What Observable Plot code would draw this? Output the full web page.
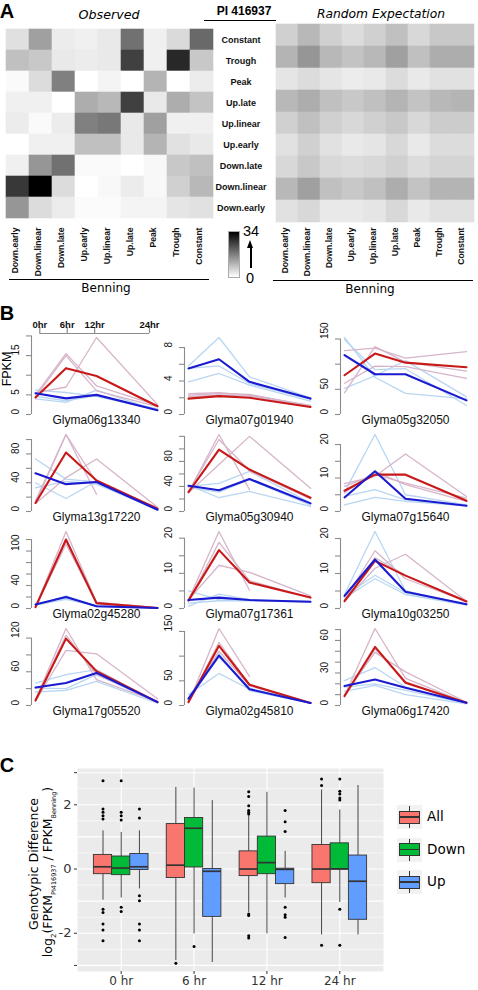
<!DOCTYPE html>
<html><head><meta charset="utf-8">
<script src="https://cdn.jsdelivr.net/npm/d3@7"></script>
<script src="https://cdn.jsdelivr.net/npm/@observablehq/plot@0.6"></script>
<style>
body{margin:0;background:#fff;}
#fig{position:relative;width:478px;height:990px;overflow:hidden;font-family:"Liberation Sans",Arial,sans-serif;color:#000;background:#fff;}
.t{position:absolute;white-space:nowrap;transform:translate(-50%,-50%);line-height:1;}
.r{position:absolute;white-space:nowrap;transform:translate(-50%,-50%) rotate(-90deg);line-height:1;}
.ln{position:absolute;background:#000;}
</style></head><body><div id="fig"></div>
<script>
// ---------------- Panel A data ----------------
const benningPatterns = ["Down.early","Down.linear","Down.late","Up.early","Up.linear","Up.late","Peak","Trough","Constant"];
const piPatterns = ["Constant","Trough","Peak","Up.late","Up.linear","Up.early","Down.late","Down.linear","Down.early"];
const observedCounts = [
  [4.1,12.7,2.5,2,3,19,2,5,20],
  [8.4,7.3,3,2.5,3,25.5,2,28.7,7.3],
  [0.7,4.7,17,0,1.5,0,10,0,2.5],
  [2,2,0,11,9.5,25.5,3,11,8],
  [2.5,0.7,2.5,17,18,3,12.7,2,2],
  [0,2,2,8.4,8.4,3,10,4,3],
  [2,14,19,0.7,0.7,0,1,7.3,8.4],
  [26.5,34,4.7,0,1,2.5,1,6.3,9.5],
  [14,4.7,2.5,0.5,0.5,1.5,1.5,3.5,4]
];
const randomCounts = [
  [6.3,9.5,6.3,4.7,6.3,8.4,5.2,7.3,7.3],
  [10,14,9.5,8,9.5,12.7,8.4,11,11],
  [3.5,4.7,3.5,2.5,3,4.7,3,4,4],
  [9.5,11,8.4,7.3,8.4,10,8,9.5,10],
  [6.3,8.4,6.3,5.2,6.3,7.3,5.2,6.8,6.8],
  [4,6.3,4,3,3.5,5.2,3,4.7,4.7],
  [5.2,7.3,5.2,4.7,5.2,6.3,4.7,5.7,5.7],
  [9.5,12.7,8.4,7.3,8.4,11,8,10,10],
  [4,5.2,3,3,3.5,5.2,3,4,4]
];
const countRange = [0, 34];

// ---------------- Panel B data ----------------
const hours = [0, 6, 12, 24];
const hourLabels = ["0hr","6hr","12hr","24hr"];
const genes = ["Glyma06g13340","Glyma07g01940","Glyma05g32050",
               "Glyma13g17220","Glyma05g30940","Glyma07g15640",
               "Glyma02g45280","Glyma07g17361","Glyma10g03250",
               "Glyma17g05520","Glyma02g45810","Glyma06g17420"];
const redMean = [
  [4.3,11.8,9.8,2.1],[1.9,2.2,2.0,0.9],[78,121,103,94],
  [11.8,82,43,4],[31,99,67,22],[6.2,11,11,3.2],
  [2.3,120,9.4,1],[2.3,16.6,7.4,3.1],[2.1,13.6,9.4,2],
  [9,119,61,6],[7,121,42,5],[8.7,54,21,2.5]
];
const blueMean = [
  [5.4,4.1,5.0,1.1],[5.5,6.6,3.9,1.9],[118,80,80,28],
  [53,38,41,2.4],[41,34,52,13],[4.2,12.0,3.8,1.7],
  [7,20,4,1],[2.4,3.1,2.4,1.9],[3.6,14.0,4.8,1.2],
  [32,40,58,6],[14,101,33,5],[18,24,16.4,2.5]
];
const redReps = [
  [[5.0,15.5,7.3,2.3],[4.5,15.0,6.0,2.0],[5.5,7.0,19.6,2.5]],
  [[2.3,2.5,2.4,1.0],[2.5,2.6,2.3,1.1],[2.1,2.3,2.2,0.9]],
  [[127,132,112,125],[43,135,104,86],[62,96,95,72]],
  [[12,107,24,null],[15,107,41,5],[11,47,73,6]],
  [[31,123,35,null],[30,75,120,37],[32,115,65,20]],
  [[8.3,10.5,17.2,4.5],[7.5,11,8.5,4],[5.5,12,8,3]],
  [[2,134,11,1.5],[2.5,118,8,1],[2,112,10,1.2]],
  [[2.5,21.9,5.2,null],[2,18.8,7.9,3],[2.5,12.3,10.3,3.6]],
  [[2,11.5,15.5,2],[2.5,16.5,8.5,2],[2,14.5,9.5,2.2]],
  [[10,137,46,7],[8,98,92,12],[9,125,55,8]],
  [[5,156,59,null],[6,128,42,5],[8,110,40,5]],
  [[9,71,25,2.5],[10,49,31,3],[8,52,22,2]]
];
const blueReps = [
  [[6.2,5.6,4.6,1.2],[4.0,3.1,6.2,1.0],[4.6,3.5,4.8,1.4]],
  [[5.8,9.2,4.5,2.0],[3.9,4.9,3.5,1.6],[5.5,5.8,3.7,1.8]],
  [[153,74,42,31],[52,77,107,35],[149,89,91,18]],
  [[73,45,41,3],[40,18,42,2],[33,42,38,3]],
  [[40,45,64,14],[42,22,32,8],[38,31,51,10]],
  [[5.8,23,5,2],[4.5,6.5,3.5,2],[2,4.2,3,1.7]],
  [[6,22,4,1],[8,18,3.5,0.8],[6,16,5,1.2]],
  [[5.0,2.5,2.4,1.9],[0.7,4.1,2.5,2.0],[1.5,2.2,2.2,1.8]],
  [[4,22,5,1.2],[3.5,9.5,4.5,1.3],[3,8.5,4,1]],
  [[40,55,64,5],[24,27,43,4],[31,30,55,5]],
  [[22,65,33,5],[15,98,35,5],[8,105,30,5]],
  [[23,35,17,2],[13,18.5,10,1.5],[17,20,14,2]]
];
const yTicks = [
  [0,5,10,15,20],[0,2,4,6,8],[0,50,100,150],
  [0,20,40,60,80,100],[0,20,40,60,80,100,120],[0,5,10,15,20],
  [0,20,40,60,80,100,120],[0,5,10,15,20],[0,5,10,15,20],
  [0,30,60,90,120],[0,50,100,150],[0,10,20,30,40,50,60,70]
];
const yLabels = [
  [0,5,15],[0,4,8],[0,50,150],
  [0,40,80],[0,40,80],[0,10,20],
  [0,40,100],[0,10,20],[0,10,20],
  [0,60,120],[0,50,150],[0,30,60]
];

// ---------------- Panel C data ----------------
const boxTimes = ["0 hr","6 hr","12 hr","24 hr"];
const boxGroups = ["All","Down","Up"];
const boxColors = ["#F8766D","#00BA38","#619CFF"];
// [lower whisker, Q1, median, Q3, upper whisker]
const allStats  = [[-0.97,-0.16,0.07,0.44,1.19],[-2.85,-0.28,0.12,1.40,2.54],[-1.35,-0.22,0.0,0.55,1.66],[-2.05,-0.44,0.0,0.75,2.46]];
const downStats = [[-0.90,-0.19,0.03,0.39,1.14],[-2.02,0.05,1.27,1.59,2.52],[-2.02,-0.16,0.20,1.01,2.39],[-1.04,0.0,0.0,0.80,1.84]];
const upStats   = [[-0.62,-0.03,0.07,0.47,1.19],[-2.91,-1.49,-0.07,0.0,2.13],[-0.90,-0.47,-0.01,0.01,0.55],[-2.05,-1.58,-0.38,0.42,2.60]];
const allOut  = [[2.75,1.87,1.77,1.66,1.56,-1.25,-1.35,-1.71,-1.9,-2.23],[-2.93],[2.41,2.26,1.97,1.82,1.77,1.71,-1.40,-1.45,-2.08,-2.15],[2.80,2.60,-2.37]];
const downOut = [[2.75,1.77,1.66,1.53,-1.19,-1.32],[-2.41],[],[2.80,2.42,2.34,2.21,2.15,-1.25,-2.37]];
const upOut   = [[1.87,1.59,-0.83,-0.99,-1.71,-1.9,-2.23],[],[1.82,1.47,1.17,-1.19,-1.42,-1.5,-2.13],[]];
const yTicksC = [-3,-2,0,2,3];
const yLabelsC = [-2,0,2];

// ---------------- helpers ----------------
const fig = document.getElementById("fig");
function put(node, left, top) {
  node.style.position = "absolute"; node.style.left = left + "px"; node.style.top = top + "px";
  fig.appendChild(node); return node;
}
function txt(str, x, y, css, cls) {
  const d = document.createElement("div");
  d.className = cls || "t"; d.innerHTML = str;
  d.style.left = x + "px"; d.style.top = y + "px";
  Object.assign(d.style, css || {});
  fig.appendChild(d); return d;
}
function hline(x1, x2, y, w) {
  const d = document.createElement("div"); d.className = "ln";
  d.style.left = x1 + "px"; d.style.top = (y - w/2) + "px"; d.style.width = (x2 - x1) + "px"; d.style.height = w + "px";
  fig.appendChild(d);
}
const baseStyle = {background: "transparent", overflow: "visible", fontFamily: "'Liberation Sans', Arial, sans-serif", color: "#111"};

// ---------------- Panel A ----------------
function heat(counts, o) {
  const cells = [];
  piPatterns.forEach((r, i) => benningPatterns.forEach((c, j) => cells.push({row: r, col: c, v: counts[i][j]})));
  const marks = [
    Plot.cell(cells, {x: "col", y: "row", fill: "v", stroke: "v", strokeWidth: 0.6}),
    Plot.text(benningPatterns, {x: d => d, text: d => d, frameAnchor: "bottom", rotate: -90, textAnchor: "end", dy: o.labDy, fontSize: 8.6, fontWeight: "bold", fill: "#111"})
  ];
  if (o.rowLabels) marks.push(Plot.text(piPatterns, {y: d => d, text: d => d, frameAnchor: "right", textAnchor: "middle", dx: 27.5, fontSize: 9, fontWeight: "bold", fill: "#111"}));
  return Plot.plot({
    width: o.width, height: 285, marginLeft: o.ml, marginRight: o.mr, marginTop: o.mt, marginBottom: o.mb,
    x: {domain: benningPatterns, padding: 0, axis: null},
    y: {domain: piPatterns, padding: 0, axis: null},
    color: {type: "linear", domain: countRange, range: ["#ffffff", "#000000"]},
    style: baseStyle,
    marks
  });
}
put(heat(observedCounts, {width: 272, ml: 5, mr: 59, mt: 25, mb: 63, labDy: 5, rowLabels: true}), 0, 0);
put(heat(randomCounts, {width: 206, ml: 0, mr: 0, mt: 23, mb: 62, labDy: 4, rowLabels: false}), 272, 0);

txt("A", 7, 11, {fontSize: "20px", fontWeight: "bold"});
txt("Observed", 109, 15, {fontFamily: "'DejaVu Sans'", fontStyle: "oblique", fontSize: "12.7px"});
txt("Random Expectation", 381, 14, {fontFamily: "'DejaVu Sans'", fontStyle: "oblique", fontSize: "12.3px"});
txt("PI 416937", 244, 10.5, {fontSize: "12px", fontWeight: "bold"});
hline(204, 276, 20.5, 1.5);
hline(9, 209, 279.5, 1.6);
hline(273, 473, 280.5, 1.6);
txt("Benning", 106, 288, {fontFamily: "'DejaVu Sans'", fontSize: "12px"});
txt("Benning", 370, 289, {fontFamily: "'DejaVu Sans'", fontSize: "12px"});
// colour key
(function(){
  const g = document.createElement("div");
  Object.assign(g.style, {width: "10px", height: "45px", border: "1px solid #aaa",
    background: "linear-gradient(to bottom,#000,#fff)"});
  put(g, 228, 231);
  txt(String(countRange[1]), 251, 231, {fontSize: "14.5px"});
  txt(String(countRange[0]), 250, 277.5, {fontSize: "14.5px"});
  const shaft = document.createElement("div");
  Object.assign(shaft.style, {width: "2px", height: "22px", background: "#000"});
  put(shaft, 249.5, 246);
  const head = document.createElement("div");
  Object.assign(head.style, {width: 0, height: 0, borderLeft: "3.5px solid transparent", borderRight: "3.5px solid transparent", borderBottom: "8px solid #000"});
  put(head, 247, 240);
})();

// ---------------- Panel B ----------------
txt("B", 7, 313, {fontSize: "20px", fontWeight: "bold"});
txt("FPKM", 6.5, 369, {fontSize: "12.5px"}, "r");
// time key on top
put(Plot.plot({
  width: 160, height: 22, marginLeft: 39.3, marginRight: 11, marginTop: 15, marginBottom: 1,
  x: {domain: [hours[0], hours[hours.length - 1]], axis: null},
  y: {domain: [0, 1], axis: null},
  style: baseStyle,
  marks: [
    Plot.ruleY([0], {x1: hours[0], x2: hours[hours.length - 1], stroke: "#8c8c8c", strokeWidth: 1.2}),
    Plot.tickX(hours, {x: d => d, stroke: "#8c8c8c", strokeWidth: 1.2}),
    Plot.text(hours, {x: d => d, text: (d, i) => hourLabels[i], frameAnchor: "top", dy: -6.5, fontSize: 9.5, fontWeight: "bold", fill: "#111"})
  ]
}), 0, 312);

const colLeft = [0, 153, 309];
const rowTop = [330.5, 427.7, 524.9, 622.1];
const pink = "#d6b5ca", lightBlue = "#b8d6f2", red = "#c81818", blue = "#1a1ad0";
genes.forEach((name, k) => {
  const c = k % 3, r = Math.floor(k / 3);
  const toRows = arr => hours.map((h, i) => ({h, v: arr[i]}));
  const vals = [...redMean[k], ...blueMean[k], ...redReps[k].flat(), ...blueReps[k].flat()].filter(v => v != null);
  const ymax = d3.max(vals);
  const tk = yTicks[k];
  const marks = [
    Plot.ruleX([hours[0]], {y1: tk[0], y2: tk[tk.length - 1], dx: -4, stroke: "#8c8c8c", strokeWidth: 1.1}),
    Plot.axisY({ticks: tk, tickSize: 5, tickFormat: () => "", label: null, stroke: "#8c8c8c", strokeWidth: 1.1}),
    Plot.text(yLabels[k], {y: d => d, text: d => String(d), frameAnchor: "left", dx: -16, rotate: -90, fontSize: 10, fill: "#111"}),
    Plot.text([name], {frameAnchor: "bottom", dx: 2, dy: 9, fontSize: 12, fill: "#111"})
  ];
  blueReps[k].forEach(rep => marks.push(Plot.line(toRows(rep), {x: "h", y: "v", stroke: lightBlue, strokeWidth: 1.3})));
  redReps[k].forEach(rep => marks.push(Plot.line(toRows(rep), {x: "h", y: "v", stroke: pink, strokeWidth: 1.3})));
  marks.push(Plot.line(toRows(redMean[k]), {x: "h", y: "v", stroke: red, strokeWidth: 2.1}));
  marks.push(Plot.line(toRows(blueMean[k]), {x: "h", y: "v", stroke: blue, strokeWidth: 2.1}));
  put(Plot.plot({
    width: 160, height: 99, marginLeft: 31, marginRight: 3, marginTop: 6, marginBottom: 16,
    x: {domain: [hours[0], hours[hours.length - 1]], insetLeft: 4, axis: null},
    y: {domain: [0, ymax], axis: null},
    style: baseStyle,
    marks
  }), colLeft[c], rowTop[r]);
});

// ---------------- Panel C ----------------
txt("C", 7, 765, {fontSize: "20px", fontWeight: "bold"});
const dodge = [-0.25, 0, 0.25], halfW = 0.125;
const statsByGroup = [allStats, downStats, upStats];
const outByGroup = [allOut, downOut, upOut];
const boxRows = [], outRows = [];
boxGroups.forEach((g, gi) => {
  statsByGroup[gi].forEach((s, ti) => boxRows.push({g, gi, ti, lo: s[0], q1: s[1], med: s[2], q3: s[3], hi: s[4]}));
  outByGroup[gi].forEach((arr, ti) => arr.forEach(v => outRows.push({g, gi, ti, v})));
});
const cx = d => d.ti + dodge[d.gi];
const gridVals = d3.range(-3, 3.01, 0.5);
put(Plot.plot({
  width: 390, height: 228, marginLeft: 77, marginRight: 7, marginTop: 6, marginBottom: 19,
  x: {domain: [-0.6, boxTimes.length - 0.4], axis: null},
  y: {domain: [-3.19, 3.13], axis: null},
  color: {domain: boxGroups, range: boxColors},
  style: {...baseStyle, fontFamily: "'DejaVu Sans', sans-serif", color: "#333"},
  marks: [
    Plot.frame({fill: "#EBEBEB", stroke: null}),
    Plot.ruleY(gridVals, {stroke: "white", strokeWidth: d => Number.isInteger(d) ? 1.1 : 0.6}),
    Plot.ruleX(boxTimes, {x: (d, i) => i, stroke: "white", strokeWidth: 1.1}),
    Plot.ruleX(boxRows, {x: cx, y1: "lo", y2: "q1", stroke: "#333", strokeWidth: 0.9}),
    Plot.ruleX(boxRows, {x: cx, y1: "q3", y2: "hi", stroke: "#333", strokeWidth: 0.9}),
    Plot.rect(boxRows, {x1: d => cx(d) - halfW, x2: d => cx(d) + halfW, y1: "q1", y2: "q3", fill: "g", stroke: "#333", strokeWidth: 0.9}),
    Plot.ruleY(boxRows, {y: "med", x1: d => cx(d) - halfW, x2: d => cx(d) + halfW, stroke: "#333", strokeWidth: 1.7}),
    Plot.dot(outRows, {x: cx, y: "v", r: 1.5, fill: "black", stroke: null}),
    Plot.axisY({ticks: yTicksC, tickFormat: d => yLabelsC.includes(d) ? String(d) : "", tickSize: 3, tickPadding: 3, label: null, fontSize: 13, color: "#333"}),
    Plot.axisX({ticks: boxTimes.map((d, i) => i), tickFormat: i => boxTimes[i], tickSize: 3, tickPadding: 2, label: null, fontSize: 12, color: "#333"})
  ]
}), 0, 762);

txt("Genotypic Difference", 33.5, 864, {fontFamily: "'DejaVu Sans'", fontSize: "12.5px"}, "r");
txt("log<sub style='font-size:7px'>2</sub>(FPKM<sub style='font-size:6.5px'>PI416937</sub> / FPKM<sub style='font-size:6.5px'>Benning</sub>)", 49.5, 872, {fontFamily: "'DejaVu Sans'", fontSize: "12.5px"}, "r");

// legend for panel C
boxGroups.forEach((g, i) => {
  const cy = 817 + i * 32.5;
  const bg = document.createElement("div");
  Object.assign(bg.style, {width: "25px", height: "24px", background: "#F2F2F2"});
  put(bg, 397, cy - 12);
  const wh = document.createElement("div");
  Object.assign(wh.style, {width: "1px", height: "22px", background: "#333"});
  put(wh, 409, cy - 11);
  const bx = document.createElement("div");
  Object.assign(bx.style, {width: "19px", height: "11px", background: boxColors[i], border: "1px solid #333"});
  put(bx, 399, cy - 6.5);
  const md = document.createElement("div");
  Object.assign(md.style, {width: "21px", height: "1.6px", background: "#333"});
  put(md, 399, cy - 0.8);
  txt(g, 427, cy, {fontFamily: "'DejaVu Sans'", fontSize: "13.5px", transform: "translate(0,-50%)"});
});
</script></body></html>
